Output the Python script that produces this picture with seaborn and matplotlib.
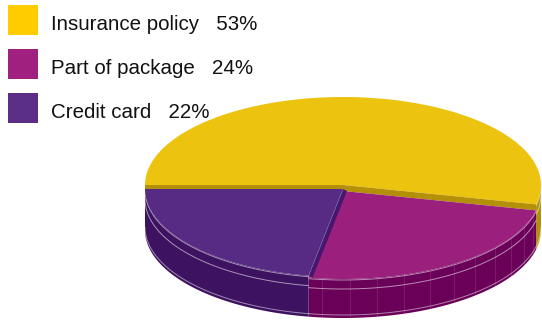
import numpy as np
import matplotlib
matplotlib.use("Agg")
import matplotlib.pyplot as plt
from matplotlib.patches import Polygon, Rectangle
import seaborn as sns

# Data
categories = ["Insurance policy", "Part of package", "Credit card"]
shares = [53, 24, 22]
share_labels = ["53%", "24%", "22%"]

# Colours: top faces, side faces, legend keys
top_colors = ["#ecc30f", "#9b1f7d", "#572b83"]
side_colors = ["#b39008", "#6a0058", "#3d1260"]
legend_colors = sns.color_palette(["#ffcc00", "#a0207f", "#5a2d87"])

sns.set_theme(style="white")
plt.rcParams["font.family"] = ["Liberation Sans", "DejaVu Sans"]

fig = plt.figure(figsize=(5.42, 3.2), dpi=100)
ax = fig.add_axes([0, 0, 1, 1])
ax.set_xlim(0, 542)
ax.set_ylim(320, 0)
ax.axis("off")

# Pie geometry (screen-like units, y grows downward)
cx, rx, ry = 343, 198, 88
top_level = [185, 191, 189]   # centre height of each slice's top face
base_level = 230              # centre height of the bottom ellipse


def pt(theta_deg, yc):
    t = np.radians(theta_deg)
    return cx + rx * np.cos(t), yc - ry * np.sin(t)


def arc(a0, a1, yc, n=120):
    th = np.linspace(a0, a1, n)
    t = np.radians(th)
    return np.column_stack([cx + rx * np.cos(t), yc - ry * np.sin(t)])


# slice angles: start at the left, run clockwise
fr = np.array(shares, dtype=float) / sum(shares)
starts, ends = [], []
a = 180.0
for f in fr:
    starts.append(a)
    ends.append(a - 360 * f)
    a -= 360 * f


def draw_side(i, z, step):
    # front-facing portion of the slice rim (angles between -180 and 0)
    lo, hi = ends[i], starts[i]
    v0, v1 = max(lo, -180), min(hi, 0)
    if v1 <= v0:
        return
    top = arc(v1, v0, top_level[i])
    bot = arc(v0, v1, base_level)
    ax.add_patch(Polygon(np.vstack([top, bot]), closed=True,
                         facecolor=side_colors[i], edgecolor="none", zorder=z))
    # facet lines and bevel highlights
    if step:
        for th in np.arange(np.ceil(v0 / step) * step, v1, step):
            x0, y0 = pt(th, top_level[i])
            x1, y1 = pt(th, base_level)
            ax.plot([x0, x1], [y0, y1], color="white", lw=0.5, alpha=0.16,
                    zorder=z + 0.1)
    for off in (1.0, 10.0):
        h = arc(v1, v0, top_level[i] + off)
        ax.plot(h[:, 0], h[:, 1], color="white", lw=0.7, alpha=0.55, zorder=z + 0.2)
    h = arc(v1, v0, base_level - 3)
    ax.plot(h[:, 0], h[:, 1], color="white", lw=0.7, alpha=0.5, zorder=z + 0.2)


def draw_top(i, z):
    pts = np.vstack([[cx, top_level[i]], arc(starts[i], ends[i], top_level[i])])
    ax.add_patch(Polygon(pts, closed=True, facecolor=top_colors[i],
                         edgecolor="none", zorder=z))


def draw_step(i, theta, lower, z):
    # radial face of slice i along angle theta, dropping to a lower neighbour
    xr, yr = pt(theta, top_level[i])
    xl, yl = pt(theta, lower)
    quad = [[cx, top_level[i]], [xr, yr], [xl, yl], [cx, lower]]
    ax.add_patch(Polygon(quad, closed=True, facecolor=side_colors[i],
                         edgecolor="none", zorder=z))


# back slice (yellow) first
draw_side(0, 1, 0)
draw_top(0, 2)
draw_step(0, starts[0], top_level[2], 3)
draw_step(0, ends[0], top_level[1], 3)

# front slices
draw_side(1, 4, 8)
draw_side(2, 4, 0)
draw_top(2, 6)
draw_top(1, 6)

# purple radial face at the purple / magenta boundary
xr, yr = pt(ends[1], top_level[2])
xb, yb = pt(ends[1], top_level[1])
face = [[cx, top_level[2]], [xr, yr], [xb + 4, yb], [cx + 4, top_level[1]]]
ax.add_patch(Polygon(face, closed=True, facecolor="#45186d",
                     edgecolor="none", zorder=7))
ax.plot([cx, xr], [top_level[2], yr], color="#8c6fb0", lw=0.5, alpha=0.6, zorder=7.1)

# legend keys
for k, (name, lab, col) in enumerate(zip(categories, share_labels, legend_colors)):
    y = 5 + k * 44
    ax.add_patch(Rectangle((8, y), 30, 30, facecolor=col, edgecolor="none", zorder=10))
    ax.text(51, y + 25, f"{name}   {lab}", fontsize=14.8, color="#111111",
            va="baseline", ha="left", zorder=10)

fig.savefig("out.png", dpi=100)
